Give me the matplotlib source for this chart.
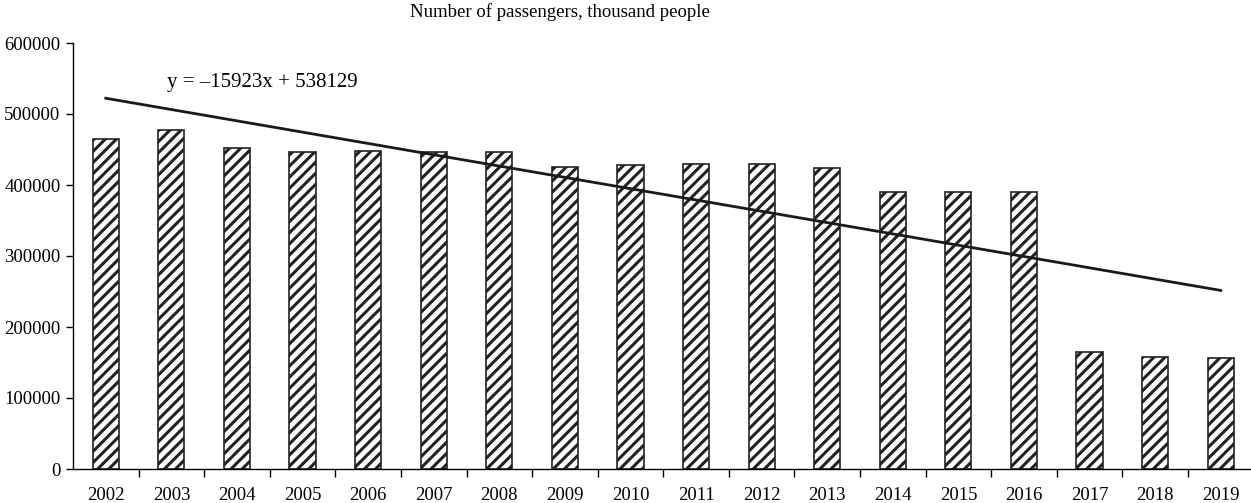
import matplotlib
matplotlib.use("Agg")
import matplotlib.pyplot as plt
import numpy as np

years = ["2002", "2003", "2004", "2005", "2006", "2007", "2008", "2009", "2010",
         "2011", "2012", "2013", "2014", "2015", "2016", "2017", "2018", "2019"]
passengers = [465000, 477000, 452000, 446000, 448000, 446000, 446000, 426000, 428000,
              429000, 429000, 424000, 390000, 390000, 390000, 165000, 158000, 156000]
slope = -15923
intercept = 538129
title = "Number of passengers, thousand people"
trend_label = "y = \u201315923x + 538129"

plt.rcParams['font.family'] = ['Liberation Serif', 'DejaVu Serif']
plt.rcParams['hatch.linewidth'] = 2.2
plt.rcParams['hatch.color'] = '#222222'

fig = plt.figure(figsize=(12.51, 5.03), dpi=100)
ax = fig.add_axes([73/1251, 1 - 469/503, 1 - 73/1251 + 0.002, (469 - 43)/503])

x = np.arange(len(years))
ax.bar(x, passengers, width=0.4, color='white', edgecolor='#222222', hatch='///', linewidth=1.2)

xn = np.arange(1, len(years) + 1)
trend = slope * xn + intercept
ax.plot(x, trend, color='#1a1a1a', linewidth=2)

ax.set_xlim(-0.5, len(years) - 0.5)
ax.set_ylim(0, 600000)
ax.set_yticks(np.arange(0, 600001, 100000))
ax.set_yticklabels([str(v) for v in range(0, 600001, 100000)], fontsize=13.5)
ax.set_xticks(x)
ax.set_xticklabels(years, fontsize=13.5)
ax.tick_params(axis='x', which='major', length=0, pad=13)
ax.set_xticks(np.arange(0.5, len(years) - 0.5, 1), minor=True)
ax.tick_params(axis='x', which='minor', length=6, width=1, direction='out')
ax.tick_params(axis='y', length=5, width=1, direction='out', pad=4)
for s in ['top', 'right']:
    ax.spines[s].set_visible(False)
ax.spines['left'].set_linewidth(1)
ax.spines['bottom'].set_linewidth(1)

fig.text(560/1251, 1 - 12/503, title, ha='center', va='center', fontsize=13.5)
ax.text(0.94, 545000, trend_label, fontsize=15, ha='left', va='center')

fig.savefig("out.png", dpi=100)
